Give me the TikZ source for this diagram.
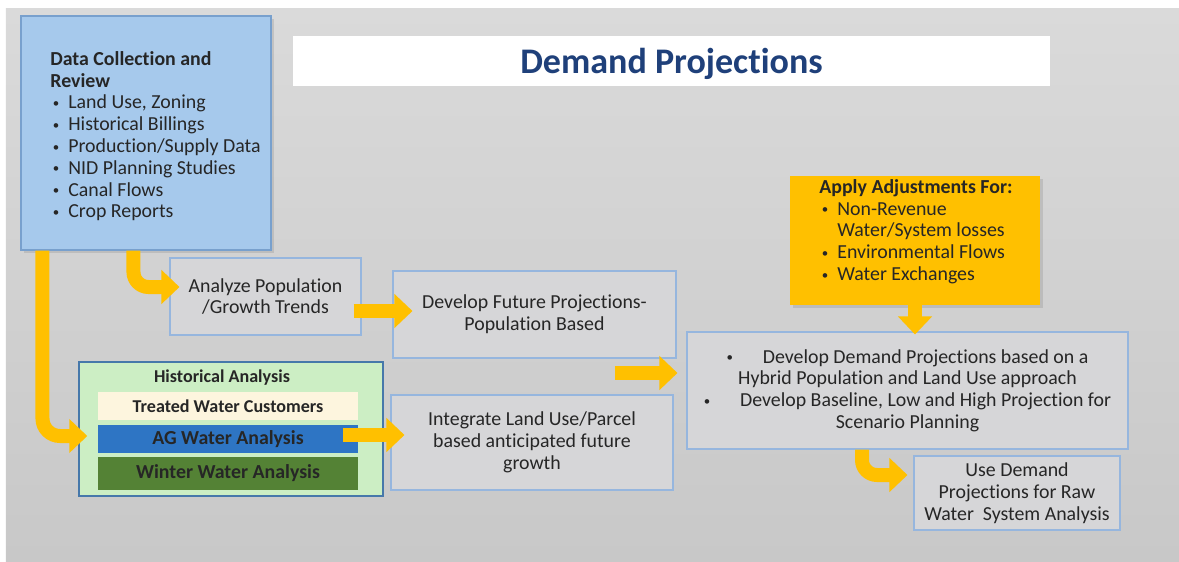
\documentclass[tikz,border=0pt]{standalone}
\usepackage{fontspec}
\setmainfont{Carlito}[Ligatures=CommonOff]
\usepackage{graphicx}
\usepackage{tikz}
\usetikzlibrary{arrows.meta,shadows}
\definecolor{slidetop}{RGB}{218,218,218}
\definecolor{slidebot}{RGB}{200,200,200}
\definecolor{boxfill}{RGB}{214,214,216}
\definecolor{boxline}{RGB}{150,182,222}
\definecolor{datablue}{RGB}{166,201,236}
\definecolor{dataline}{RGB}{120,160,205}
\definecolor{arrowgold}{RGB}{255,192,0}
\definecolor{histgreen}{RGB}{204,238,196}
\definecolor{histline}{RGB}{70,120,170}
\definecolor{cream}{RGB}{253,245,222}
\definecolor{agblue}{RGB}{46,117,196}
\definecolor{wintergreen}{RGB}{84,130,53}
\definecolor{titleblue}{RGB}{31,64,122}
\definecolor{ink}{RGB}{38,38,38}
\newcommand{\bdot}{\raisebox{0.15ex}{\scalebox{0.65}{\textbullet}}}
\newcommand{\itm}{\makebox[0.36cm][l]{\hspace{0.05cm}\bdot}}
\newcommand{\bodyfont}{\fontsize{11.3}{12.4}\selectfont}

\begin{document}
\begin{tikzpicture}[y=-1cm,
  every node/.style={text=ink,font=\bodyfont},
  plain/.style={draw=boxline,fill=boxfill,line width=0.6pt,align=center,inner sep=0pt},
  flow/.style={arrowgold,line width=0.28cm,-{Triangle[length=0.36cm,width=0.66cm]}},
  band/.style={minimum width=5.2cm,inner sep=0pt,font=\bfseries\fontsize{11.3}{12}\selectfont},
  shade box/.style={drop shadow={opacity=0.25,shadow xshift=0.05cm,shadow yshift=-0.06cm}}]
\useasboundingbox (0,0) rectangle (23.58,11.22);
\fill[white] (0,0) rectangle (23.58,11.22);
\shade[top color=slidetop,bottom color=slidebot] (0.12,0.16) rectangle (23.58,11.22);

\node[fill=white,minimum width=15.14cm,minimum height=1cm,inner sep=0pt,text depth=0pt,text=titleblue,font=\bfseries\fontsize{20.5}{24}\selectfont] (title) at (13.43,1.22) {Demand Projections};

\node[fill=datablue,draw=dataline,line width=0.6pt,minimum width=5cm,minimum height=4.68cm,shade box] (data) at (2.92,2.66) {};
\node[anchor=north west,align=left,inner sep=0pt] (datatext) at (1.0,1.02) {\textbf{Data Collection and}\\\textbf{Review}\\\itm Land Use, Zoning\\\itm Historical Billings\\\itm Production/Supply Data\\\itm NID Planning Studies\\\itm Canal Flows\\\itm Crop Reports};

\node[plain,minimum width=3.82cm,minimum height=1.54cm] (analyze) at (5.31,5.93) {Analyze Population\\/Growth Trends};
\node[plain,minimum width=5.66cm,minimum height=1.74cm] (future) at (10.69,6.29) {Develop Future Projections-\\Population Based};
\node[plain,minimum width=5.64cm,minimum height=1.9cm] (integrate) at (10.64,8.85) {Integrate Land Use/Parcel\\based anticipated future\\growth};

\node[fill=histgreen,draw=histline,line width=0.8pt,minimum width=6.08cm,minimum height=2.68cm] (hist) at (4.62,8.58) {};
\node[font=\bfseries\fontsize{10.3}{12}\selectfont] (histlabel) at (4.44,7.56) {Historical Analysis};
\node[band,fill=cream,minimum height=0.56cm,font=\bfseries\fontsize{10.3}{12}\selectfont] (treated) at (4.56,8.12) {Treated Water Customers};
\node[band,fill=agblue,minimum height=0.56cm] (ag) at (4.56,8.78) {AG Water Analysis};
\node[band,fill=wintergreen,minimum height=0.66cm] (winter) at (4.56,9.47) {Winter Water Analysis};

\node[fill=arrowgold,minimum width=5cm,minimum height=2.58cm,shade box] (apply) at (18.3,4.81) {};
\node[anchor=north west,align=left,inner sep=0pt] (applytext) at (16.38,3.58) {\textbf{Apply Adjustments For:}\\\itm Non-Revenue\\\hspace*{0.36cm}Water/System losses\\\itm Environmental Flows\\\itm Water Exchanges};

\node[plain,minimum width=8.82cm,minimum height=2.34cm] (demand) at (18.15,7.81) {\bdot\hspace{1.5em}Develop Demand Projections based on a\\Hybrid Population and Land Use approach\\\bdot\hspace{1.5em}Develop Baseline, Low and High Projection for\\Scenario Planning};
\node[plain,minimum width=4.12cm,minimum height=1.48cm] (use) at (20.34,9.86) {Use Demand\\Projections for Raw\\Water\ \ System Analysis};

\coordinate (midtail) at (12.3,7.46);

\draw[flow,rounded corners=0.35cm] ([xshift=0.44cm]data.south west) |- ([xshift=0.18cm,yshift=-0.14cm]hist.west);
\draw[flow,rounded corners=0.3cm] ([xshift=2.26cm]data.south west) |- ([xshift=0.2cm,yshift=0.19cm]analyze.west);
\draw[flow] ([xshift=-0.16cm,yshift=-0.29cm]analyze.east) -- ([xshift=0.4cm,yshift=-0.29cm]analyze.east -| future.west);
\draw[flow] ([xshift=-0.3cm,yshift=0.08cm]ag.east) -- ([xshift=0.28cm,yshift=0.08cm]ag.east -| integrate.west);
\draw[flow] (midtail) -- ([xshift=-0.18cm]midtail -| demand.west);
\draw[flow] (apply.south) -- ([yshift=-0.06cm]apply.south |- demand.north);
\draw[flow,rounded corners=0.3cm] ([xshift=-0.91cm]demand.south) |- ([xshift=-0.12cm,yshift=0.36cm]use.west);
\end{tikzpicture}
\end{document}
